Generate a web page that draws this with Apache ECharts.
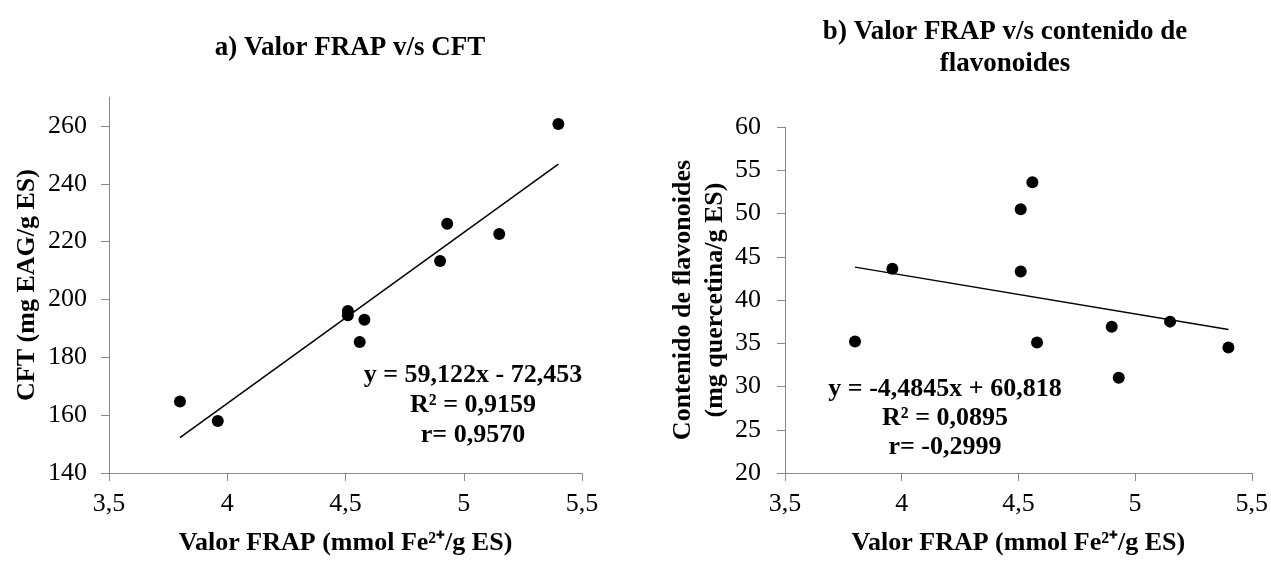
<!DOCTYPE html>
<html>
<head>
<meta charset="utf-8">
<script src="https://cdn.jsdelivr.net/npm/echarts@6/dist/echarts.min.js"></script>
<style>
  html, body { margin: 0; padding: 0; background: #fff; }
  #frap { width: 1271px; height: 561px; }
</style>
</head>
<body>
<div id="frap"></div>
<script>
// valores FRAP (eje x, comun a ambos graficos)
var frap = [3.80, 3.96, 4.51, 4.51, 4.56, 4.58, 4.90, 4.93, 5.15, 5.40];
// a) CFT (mg EAG/g ES)
var cft = [164.7, 158.0, 196.0, 194.5, 185.3, 193.0, 213.3, 226.2, 222.6, 260.7];
// b) flavonoides (mg quercetina/g ES)
var flav = [35.2, 43.6, 43.3, 50.5, 53.6, 35.1, 36.9, 31.0, 37.5, 34.5];
// lineas de tendencia (extremos)
var trendA = [[3.80, 152.2], [5.40, 246.8]];
var trendB = [[3.80, 43.8], [5.40, 36.6]];
var yTicksA = [140, 160, 180, 200, 220, 240, 260];
var eqA = ['y = 59,122x - 72,453', 'R² = 0,9159', 'r= 0,9570'];
var eqB = ['y = -4,4845x + 60,818', 'R² = 0,0895', 'r= -0,2999'];

var font = 'Liberation Serif';
function coma(v){ return String(v).replace('.', ','); }
function pares(xs, ys){ return xs.map(function(x, i){ return [x, ys[i]]; }); }

function ejeX(idx){
  return {
    type: 'value', gridIndex: idx, min: 3.5, max: 5.5, interval: 0.5,
    name: 'Valor FRAP (mmol Fe²⁺/g ES)', nameLocation: 'middle', nameGap: 57,
    nameTextStyle: { fontFamily: font, fontWeight: 'bold', fontSize: 26, color: '#000' },
    axisLine: { show: true, lineStyle: { color: '#898989', width: 1 } },
    axisTick: { show: true, inside: false, length: 8, lineStyle: { color: '#898989' } },
    axisLabel: { fontFamily: font, fontSize: 26, color: '#000', margin: 18, formatter: coma },
    splitLine: { show: false }
  };
}

var chart = echarts.init(document.getElementById('frap'));
var option = {
  animation: false,
  textStyle: { fontFamily: font },
  title: [
    { text: 'a) Valor FRAP v/s CFT', left: 345, top: 30, textAlign: 'center',
      textStyle: { fontFamily: font, fontWeight: 'bold', fontSize: 27, color: '#000' } },
    { text: 'b) Valor FRAP v/s contenido de\nflavonoides', left: 1000, top: 11, textAlign: 'center',
      textStyle: { fontFamily: font, fontWeight: 'bold', fontSize: 27, color: '#000', lineHeight: 32, align: 'center' } }
  ],
  grid: [
    { left: 109, top: 97, width: 473, height: 380 },
    { left: 785, top: 127, width: 472, height: 350 }
  ],
  xAxis: [ejeX(0), ejeX(1)],
  yAxis: [
    {
      type: 'value', gridIndex: 0, min: 140, max: 270,
      name: 'CFT (mg EAG/g ES)', nameLocation: 'middle', nameGap: 69,
      nameTextStyle: { fontFamily: font, fontWeight: 'bold', fontSize: 26, color: '#000' },
      axisLine: { show: true, lineStyle: { color: '#898989', width: 1 } },
      axisTick: { show: true, length: 8, customValues: yTicksA, lineStyle: { color: '#898989' } },
      axisLabel: { fontFamily: font, fontSize: 26, color: '#000', margin: 22, customValues: yTicksA },
      splitLine: { show: false }
    },
    {
      type: 'value', gridIndex: 1, min: 20, max: 60, interval: 5,
      name: 'Contenido de flavonoides\n(mg quercetina/g ES)', nameLocation: 'middle', nameGap: 54,
      nameTextStyle: { fontFamily: font, fontWeight: 'bold', fontSize: 26, color: '#000', lineHeight: 32, align: 'center' },
      axisLine: { show: true, lineStyle: { color: '#898989', width: 1 } },
      axisTick: { show: true, length: 8, lineStyle: { color: '#898989' } },
      axisLabel: { fontFamily: font, fontSize: 26, color: '#000', margin: 24 },
      splitLine: { show: false }
    }
  ],
  graphic: [
    { type: 'text', x: 473, y: 360, style: { text: eqA.join('\n'), font: 'bold 26px "Liberation Serif"', fill: '#000', align: 'center', verticalAlign: 'top', lineHeight: 30 } },
    { type: 'text', x: 945, y: 375, style: { text: eqB.join('\n'), font: 'bold 26px "Liberation Serif"', fill: '#000', align: 'center', verticalAlign: 'top', lineHeight: 29 } }
  ],
  series: [
    { type: 'line', xAxisIndex: 0, yAxisIndex: 0, data: trendA, symbol: 'none',
      lineStyle: { color: '#000', width: 1.5 }, z: 2 },
    { type: 'scatter', xAxisIndex: 0, yAxisIndex: 0, data: pares(frap, cft),
      symbolSize: 12, itemStyle: { color: '#000', opacity: 1 }, z: 3 },
    { type: 'line', xAxisIndex: 1, yAxisIndex: 1, data: trendB, symbol: 'none',
      lineStyle: { color: '#000', width: 1.5 }, z: 2 },
    { type: 'scatter', xAxisIndex: 1, yAxisIndex: 1, data: pares(frap, flav),
      symbolSize: 12, itemStyle: { color: '#000', opacity: 1 }, z: 3 }
  ]
};
chart.setOption(option);
</script>
</body>
</html>
